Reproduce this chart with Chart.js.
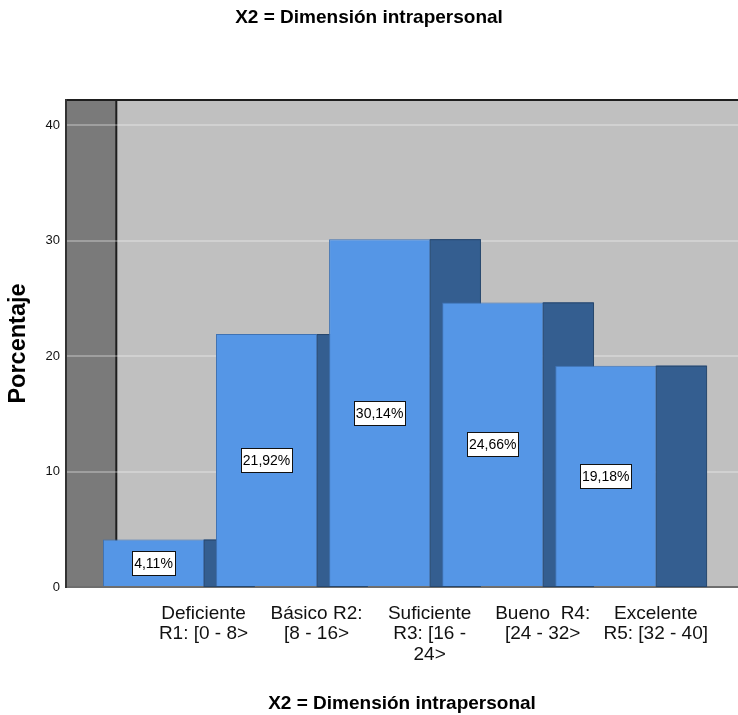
<!DOCTYPE html>
<html>
<head>
<meta charset="utf-8">
<script src="https://cdn.jsdelivr.net/npm/chart.js@4.4.1/dist/chart.umd.min.js"></script>
<style>
  html, body { margin: 0; padding: 0; background: #fff; }
  #wrap { width: 738px; height: 715px; }
</style>
</head>
<body>
<div id="wrap"><canvas id="chart" width="738" height="715"></canvas></div>
<script>
const categories = [
  ['Deficiente', 'R1: [0 - 8>'],
  ['Básico R2:', '[8 - 16>'],
  ['Suficiente', 'R3: [16 -', '24>'],
  ['Bueno  R4:', '[24 - 32>'],
  ['Excelente', 'R5: [32 - 40]']
];
const percentages = [4.11, 21.92, 30.14, 24.66, 19.18];
const yTicks = [0, 10, 20, 30, 40];

const FONT = '"Liberation Sans", Arial, sans-serif';
const DEPTH = 0.445; // depth of the 3D side, in x units

const fmt = v => v.toFixed(2).replace('.', ',') + '%';

// back wall, side wall, dark side faces of the bars and the value boxes
const depthPlugin = {
  id: 'depth',
  beforeDraw(chart) {
    const { ctx, chartArea: a, scales: { x } } = chart;
    const d = x.getPixelForValue(DEPTH) - x.getPixelForValue(0);
    ctx.save();
    ctx.fillStyle = '#c0c0c0';
    ctx.fillRect(a.left, a.top, a.right - a.left, a.bottom - a.top);
    ctx.fillStyle = '#7a7a7a';
    ctx.fillRect(a.left, a.top, d, a.bottom - a.top);
    ctx.strokeStyle = '#1e1e1e';
    ctx.lineWidth = 2;
    ctx.beginPath();
    ctx.moveTo(a.left + d, a.top);
    ctx.lineTo(a.left + d, a.bottom);
    ctx.moveTo(a.left, a.top);
    ctx.lineTo(a.right, a.top);
    ctx.stroke();
    ctx.restore();
  },
  beforeDatasetsDraw(chart) {
    const { ctx, scales: { x } } = chart;
    const d = x.getPixelForValue(DEPTH) - x.getPixelForValue(0);
    const meta = chart.getDatasetMeta(0);
    ctx.save();
    meta.data.forEach(bar => {
      const right = bar.x + bar.width / 2;
      ctx.fillStyle = '#345e90';
      ctx.fillRect(right, bar.y, d, bar.base - bar.y);
      ctx.strokeStyle = '#27476d';
      ctx.lineWidth = 1;
      ctx.strokeRect(right, bar.y + 0.5, d, bar.base - bar.y);
    });
    ctx.restore();
  },
  afterDatasetsDraw(chart) {
    const { ctx } = chart;
    const meta = chart.getDatasetMeta(0);
    ctx.save();
    ctx.font = '14px ' + FONT;
    ctx.textAlign = 'center';
    ctx.textBaseline = 'middle';
    meta.data.forEach((bar, i) => {
      const txt = fmt(percentages[i]);
      const w = Math.round(ctx.measureText(txt).width + 4);
      const h = 24;
      const cy = Math.round((bar.y + bar.base) / 2);
      const left = Math.round(bar.x - w / 2);
      ctx.fillStyle = '#fff';
      ctx.fillRect(left, cy - h / 2, w, h);
      ctx.strokeStyle = '#111';
      ctx.lineWidth = 1;
      ctx.strokeRect(left + 0.5, cy - h / 2 + 0.5, w, h);
      ctx.fillStyle = '#000';
      ctx.fillText(txt, bar.x, cy + 1);
    });
    ctx.restore();
  }
};

new Chart(document.getElementById('chart'), {
  type: 'bar',
  data: {
    datasets: [{
      data: percentages.map((v, i) => ({ x: i, y: v })),
      backgroundColor: '#5596e6',
      borderColor: '#3f72b3',
      borderWidth: 1,
      barPercentage: 0.894,
      categoryPercentage: 1
    }]
  },
  options: {
    responsive: false,
    animation: false,
    layout: { padding: 0 },
    plugins: {
      legend: { display: false },
      tooltip: { enabled: false },
      title: {
        display: true,
        text: 'X2 = Dimensión intrapersonal',
        color: '#000',
        font: { family: FONT, size: 19, weight: 'bold', lineHeight: 1.2 },
        padding: { top: 6.5, bottom: 70.7 }
      }
    },
    scales: {
      x: {
        type: 'linear',
        offset: false,
        bounds: 'data',
        min: -0.774,
        max: 5.17,
        afterFit(scale) { scale.height = 128; },
        afterBuildTicks(scale) { scale.ticks = categories.map((c, i) => ({ value: i })); },
        ticks: {
          callback: v => categories[v],
          labelOffset: 50,
          padding: 9,
          color: '#111',
          autoSkip: false,
          maxRotation: 0,
          font: { family: FONT, size: 19, lineHeight: 1.06 }
        },
        grid: { display: false },
        border: { display: true, color: '#6e6e6e', width: 2 },
        title: {
          display: true,
          text: 'X2 = Dimensión intrapersonal',
          color: '#000',
          font: { family: FONT, size: 19, weight: 'bold', lineHeight: 1.2 },
          padding: { top: 0, bottom: 0 }
        }
      },
      y: {
        min: 0,
        max: 42.2,
        afterFit(scale) { scale.width = 66; },
        afterBuildTicks(scale) { scale.ticks = yTicks.map(v => ({ value: v })); },
        ticks: {
          padding: 6,
          color: '#111',
          font: { family: FONT, size: 13 }
        },
        grid: { color: 'rgba(255,255,255,0.28)', lineWidth: 2, drawTicks: false },
        border: { display: true, color: '#333', width: 2 },
        title: {
          display: true,
          text: 'Porcentaje',
          color: '#000',
          font: { family: FONT, size: 23.5, weight: 'bold', lineHeight: 1.2 },
          padding: { top: 4, bottom: 0 }
        }
      }
    }
  },
  plugins: [depthPlugin]
});
</script>
</body>
</html>
